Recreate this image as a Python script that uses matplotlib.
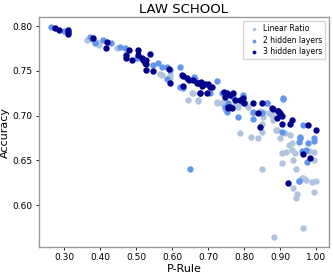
import matplotlib
matplotlib.use("Agg")
import matplotlib.pyplot as plt
from matplotlib.ticker import FormatStrFormatter

# Linear Ratio
lin_p = [0.363, 0.391, 0.398, 0.446, 0.567, 0.571, 0.594, 0.594, 0.641, 0.655, 0.645,
         0.659, 0.673, 0.673, 0.724, 0.724, 0.738, 0.743, 0.752, 0.770, 0.780, 0.784,
         0.738, 0.775, 0.747, 0.803, 0.812, 0.824, 0.852, 0.870, 0.881, 0.789, 0.819,
         0.840, 0.849, 0.891, 0.852, 0.877, 0.849, 0.889, 0.928, 0.914, 0.844,
         0.932, 0.932, 0.981, 0.994, 0.993, 0.905, 0.917, 0.905, 0.937, 0.942, 0.944,
         0.849, 0.960, 0.965, 0.971, 0.937, 0.988, 1.000, 0.946, 0.944, 0.994,
         0.965, 0.884, 0.900, 0.925]
lin_a = [0.7844, 0.7825, 0.779, 0.775, 0.746, 0.745, 0.745, 0.742, 0.7416, 0.725, 0.7174,
         0.725, 0.7166, 0.7174, 0.7155, 0.7144, 0.7144, 0.7155, 0.7137, 0.710, 0.7137, 0.710,
         0.7137, 0.7118, 0.707, 0.7137, 0.710, 0.7033, 0.6988, 0.7033, 0.695, 0.680, 0.676,
         0.6747, 0.682, 0.684, 0.7035, 0.7007, 0.691, 0.684, 0.678, 0.680, 0.705,
         0.669, 0.6616, 0.660, 0.659, 0.6505, 0.658, 0.659, 0.647, 0.6505, 0.658, 0.640,
         0.640, 0.630, 0.630, 0.628, 0.6195, 0.6255, 0.627, 0.6125, 0.6085, 0.6145,
         0.5742, 0.5648, 0.675, 0.667]

# 2 hidden layers
h2_p = [0.263, 0.300, 0.372, 0.377, 0.386, 0.407, 0.430, 0.454, 0.469, 0.502,
        0.548, 0.562, 0.571, 0.585, 0.594, 0.622, 0.585, 0.622, 0.631, 0.661, 0.664,
        0.706, 0.724, 0.738, 0.747, 0.752, 0.770, 0.798, 0.794, 0.796, 0.756, 0.824,
        0.863, 0.909, 0.784, 0.824, 0.849, 0.863, 0.905, 0.963, 0.956, 0.993,
        0.956, 0.954, 0.993, 0.979, 0.960, 0.972, 0.974, 0.953, 0.954, 0.650, 0.909]
h2_a = [0.7992, 0.7944, 0.788, 0.7855, 0.7807, 0.7844, 0.7807, 0.7769, 0.775, 0.764,
        0.7565, 0.759, 0.7546, 0.7539, 0.751, 0.7539, 0.7405, 0.7323, 0.7305, 0.7434, 0.7405,
        0.725, 0.739, 0.725, 0.710, 0.7044, 0.721, 0.721, 0.7155, 0.723, 0.7137, 0.7044,
        0.7137, 0.7193, 0.6988, 0.696, 0.7033, 0.7137, 0.682, 0.6895, 0.6765, 0.6747,
        0.6747, 0.670, 0.6717, 0.669, 0.6605, 0.6616, 0.648, 0.627, 0.627, 0.640, 0.7185]

# 3 hidden layers
h3_p = [0.275, 0.287, 0.312, 0.312, 0.312, 0.381, 0.420, 0.417, 0.481, 0.505,
        0.472, 0.472, 0.488, 0.516, 0.528, 0.539, 0.528, 0.506, 0.519, 0.525,
        0.528, 0.546, 0.590, 0.594, 0.627, 0.630, 0.641, 0.648, 0.659, 0.669, 0.673,
        0.680, 0.682, 0.692, 0.701, 0.710, 0.706, 0.631, 0.678, 0.696, 0.678,
        0.743, 0.752, 0.761, 0.770, 0.747, 0.761, 0.756, 0.775, 0.766, 0.755,
        0.789, 0.800, 0.798, 0.826, 0.849, 0.840, 0.877, 0.843, 0.895, 0.900,
        0.880, 0.895, 0.900, 0.905, 0.892, 0.905, 0.928, 0.934, 0.979, 1.000,
        0.965, 0.983, 0.923]
h3_a = [0.7974, 0.7955, 0.7955, 0.793, 0.7907, 0.787, 0.7825, 0.775, 0.7732, 0.7732,
        0.7676, 0.764, 0.762, 0.764, 0.762, 0.7684, 0.7573, 0.7676, 0.762, 0.7584,
        0.751, 0.750, 0.7517, 0.736, 0.745, 0.7442, 0.7416, 0.740, 0.740, 0.736, 0.7367,
        0.7378, 0.733, 0.7353, 0.7353, 0.732, 0.7323, 0.733, 0.725, 0.725, 0.7256,
        0.7267, 0.725, 0.723, 0.725, 0.721, 0.710, 0.708, 0.7174, 0.708, 0.710,
        0.7174, 0.7137, 0.720, 0.7144, 0.7137, 0.7033, 0.7081, 0.6876, 0.7055, 0.7007,
        0.707, 0.705, 0.7025, 0.699, 0.697, 0.691, 0.691, 0.695, 0.6895, 0.684,
        0.6568, 0.653, 0.625]

fig = plt.figure(figsize=(3.33, 2.75), dpi=100)
ax = fig.add_axes([0.117, 0.102, 0.871, 0.836])

s = 21
ax.scatter(lin_p, lin_a, s=s, color="#b0c4de", label="Linear Ratio", linewidths=0)
ax.scatter(h2_p, h2_a, s=s, color="#6495ed", label="2 hidden layers", linewidths=0)
ax.scatter(h3_p, h3_a, s=s, color="#00008b", label="3 hidden layers", linewidths=0)

ax.set_xlim(0.23, 1.036)
ax.set_ylim(0.5533, 0.81)
ax.set_xticks([0.3, 0.4, 0.5, 0.6, 0.7, 0.8, 0.9, 1.0])
ax.set_yticks([0.60, 0.65, 0.70, 0.75, 0.80])
ax.xaxis.set_major_formatter(FormatStrFormatter("%.2f"))
ax.yaxis.set_major_formatter(FormatStrFormatter("%.2f"))
ax.tick_params(labelsize=6.5, length=2.5, width=0.6, pad=2)
for sp in ax.spines.values():
    sp.set_color("#999999")
    sp.set_linewidth(1.0)

ax.set_title("LAW SCHOOL", fontsize=9.5, pad=3)
ax.set_xlabel("P-Rule", fontsize=8, labelpad=1)
ax.set_ylabel("Accuracy", fontsize=8, labelpad=2)
ax.legend(loc="upper right", fontsize=5.5, markerscale=0.6, handletextpad=0.2,
          borderpad=0.4, labelspacing=0.35, frameon=True)

fig.savefig("out.png", dpi=100)
